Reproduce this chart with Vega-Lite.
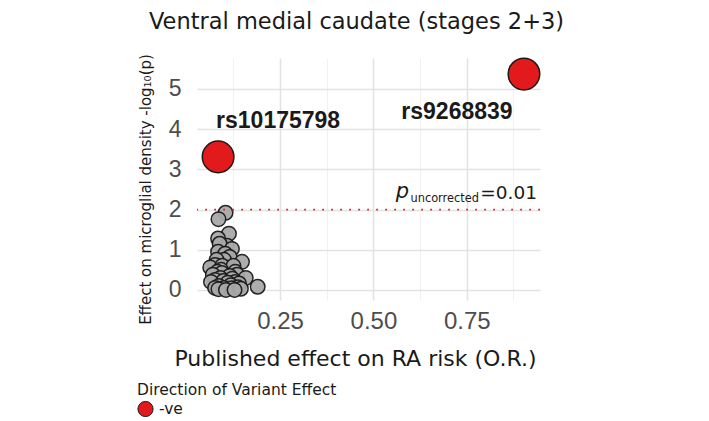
{
  "$schema": "https://vega.github.io/schema/vega-lite/v6.json",
  "autosize": "none",
  "width": 343,
  "height": 242,
  "padding": {"left": 197, "top": 58, "right": 169, "bottom": 121},
  "background": "white",
  "config": {
    "view": {"stroke": null},
    "font": "DejaVu Sans"
  },
  "title": {
    "text": "Ventral medial caudate (stages 2+3)",
    "font": "DejaVu Sans",
    "fontSize": 22.5,
    "fontWeight": "normal",
    "color": "#1a1a1a",
    "anchor": "middle",
    "dx": -12,
    "baseline": "alphabetic",
    "offset": 2
  },
  "datasets": {
    "snps": [
      {"snp": "rs10175798", "or": 0.084, "logp": 3.31, "direction": "-ve"},
      {"snp": "rs9268839", "or": 0.903, "logp": 5.37, "direction": "-ve"}
    ],
    "others": [
      {"or": 0.104, "logp": 1.92}, {"or": 0.085, "logp": 1.76}, {"or": 0.113, "logp": 1.40},
      {"or": 0.084, "logp": 1.28}, {"or": 0.108, "logp": 1.10}, {"or": 0.088, "logp": 1.15},
      {"or": 0.121, "logp": 1.02}, {"or": 0.084, "logp": 0.95}, {"or": 0.103, "logp": 0.90},
      {"or": 0.115, "logp": 0.82}, {"or": 0.100, "logp": 0.75}, {"or": 0.080, "logp": 0.75},
      {"or": 0.148, "logp": 0.70}, {"or": 0.076, "logp": 0.62}, {"or": 0.063, "logp": 0.56},
      {"or": 0.110, "logp": 0.55}, {"or": 0.095, "logp": 0.60}, {"or": 0.125, "logp": 0.60},
      {"or": 0.092, "logp": 0.50}, {"or": 0.130, "logp": 0.45}, {"or": 0.082, "logp": 0.45},
      {"or": 0.094, "logp": 0.42}, {"or": 0.070, "logp": 0.38}, {"or": 0.135, "logp": 0.38},
      {"or": 0.115, "logp": 0.35}, {"or": 0.158, "logp": 0.30}, {"or": 0.090, "logp": 0.30},
      {"or": 0.122, "logp": 0.28}, {"or": 0.076, "logp": 0.25}, {"or": 0.098, "logp": 0.22},
      {"or": 0.065, "logp": 0.20}, {"or": 0.130, "logp": 0.20}, {"or": 0.110, "logp": 0.18},
      {"or": 0.140, "logp": 0.16}, {"or": 0.118, "logp": 0.12}, {"or": 0.086, "logp": 0.10},
      {"or": 0.190, "logp": 0.08}, {"or": 0.137, "logp": 0.07}, {"or": 0.076, "logp": 0.05},
      {"or": 0.100, "logp": 0.05}, {"or": 0.120, "logp": 0.04}, {"or": 0.145, "logp": 0.03},
      {"or": 0.085, "logp": 0.02}, {"or": 0.105, "logp": 0.00}, {"or": 0.128, "logp": 0.00}
    ],
    "threshold": [{"p": 0.01, "logp": 2}]
  },
  "layer": [
    {
      "data": {"name": "others"},
      "mark": {"type": "point", "filled": true, "fill": "#a9a9a9", "stroke": "#1a1a1a", "strokeWidth": 1.5, "size": 210, "opacity": 0.95, "strokeOpacity": 1},
      "encoding": {
        "x": {
          "field": "or", "type": "quantitative",
          "scale": {"domain": [0.0275, 0.946], "nice": false, "zero": false},
          "axis": {
            "values": [0.125, 0.25, 0.375, 0.5, 0.625, 0.75, 0.875],
            "labelExpr": "(datum.value == 0.25 || datum.value == 0.5 || datum.value == 0.75) ? format(datum.value, '.2f') : ''",
            "domain": false, "ticks": false,
            "labelFont": "Liberation Sans", "labelFontSize": 24, "labelColor": "#4d4d4d",
            "labelPadding": 9,
            "gridColor": {"condition": {"test": "datum.value == 0.25 || datum.value == 0.5 || datum.value == 0.75", "value": "#e3e3e3"}, "value": "#efefef"},
            "gridWidth": {"condition": {"test": "datum.value == 0.25 || datum.value == 0.5 || datum.value == 0.75", "value": 1.6}, "value": 0.9},
            "title": "Published effect on RA risk (O.R.)",
            "titleFont": "DejaVu Sans", "titleFontSize": 22, "titleFontWeight": "normal", "titleColor": "#1a1a1a",
            "titleX": 158, "titleY": 58, "titleBaseline": "middle", "titleAlign": "center"
          }
        },
        "y": {
          "field": "logp", "type": "quantitative",
          "scale": {"domain": [-0.25, 5.77], "nice": false, "zero": false},
          "axis": {
            "values": [0, 0.5, 1, 1.5, 2, 2.5, 3, 3.5, 4, 4.5, 5, 5.5],
            "labelExpr": "datum.value % 1 == 0 ? datum.value : ''",
            "domain": false, "ticks": false,
            "labelFont": "Liberation Sans", "labelFontSize": 23, "labelColor": "#4d4d4d",
            "labelPadding": 16,
            "gridColor": {"condition": {"test": "datum.value % 1 == 0", "value": "#e3e3e3"}, "value": "#efefef"},
            "gridWidth": {"condition": {"test": "datum.value % 1 == 0", "value": 1.6}, "value": 0.9},
            "title": "Effect on microglial density -log₁₀(p)",
            "titleFont": "DejaVu Sans", "titleFontSize": 15, "titleFontWeight": "normal", "titleColor": "#1a1a1a",
            "titleAngle": -90, "titleX": -52, "titleY": 131, "titleBaseline": "middle", "titleAlign": "center"
          }
        }
      }
    },
    {
      "data": {"name": "threshold"},
      "mark": {"type": "rule", "color": "#e3242b", "strokeWidth": 1.8, "strokeDash": [1.8, 7.2]},
      "encoding": {"y": {"field": "logp", "type": "quantitative"}}
    },
    {
      "data": {"name": "threshold"},
      "mark": {"type": "text", "align": "right", "baseline": "alphabetic", "font": "DejaVu Sans", "fontSize": 18.5, "color": "#1a1a1a", "dy": -11},
      "encoding": {"x": {"datum": 0.938}, "y": {"field": "logp", "type": "quantitative"}, "text": {"value": "=0.01"}}
    },
    {
      "data": {"name": "threshold"},
      "mark": {"type": "text", "align": "right", "baseline": "alphabetic", "font": "DejaVu Sans", "fontSize": 11.4, "color": "#1a1a1a", "dy": -8, "dx": -58},
      "encoding": {"x": {"datum": 0.938}, "y": {"field": "logp", "type": "quantitative"}, "text": {"value": "uncorrected"}}
    },
    {
      "data": {"name": "threshold"},
      "mark": {"type": "text", "align": "right", "baseline": "alphabetic", "font": "DejaVu Sans", "fontSize": 21, "fontStyle": "italic", "color": "#1a1a1a", "dy": -12, "dx": -128},
      "encoding": {"x": {"datum": 0.938}, "y": {"field": "logp", "type": "quantitative"}, "text": {"value": "p"}}
    },
    {
      "data": {"name": "snps"},
      "mark": {"type": "point", "filled": true, "stroke": "#1a1a1a", "strokeWidth": 1.5, "size": 1000, "opacity": 1},
      "encoding": {
        "x": {"field": "or", "type": "quantitative"},
        "y": {"field": "logp", "type": "quantitative"},
        "fill": {
          "field": "direction", "type": "nominal",
          "scale": {"domain": ["-ve"], "range": ["#e31a1c"]},
          "legend": {
            "title": "Direction of Variant Effect",
            "orient": "none", "legendX": -60, "legendY": 325,
            "titleFont": "DejaVu Sans", "titleFontSize": 15.5, "titleFontWeight": "normal", "titleColor": "#1a1a1a",
            "titlePadding": 2, "titleLimit": 400,
            "labelFont": "DejaVu Sans", "labelFontSize": 15.5, "labelColor": "#1a1a1a",
            "symbolType": "circle", "symbolSize": 230, "symbolStrokeColor": "#1a1a1a", "symbolStrokeWidth": 1, "symbolOpacity": 1,
            "labelOffset": 5
          }
        }
      }
    },
    {
      "data": {"name": "snps"},
      "transform": [{"filter": "datum.snp == 'rs10175798'"}],
      "mark": {"type": "text", "font": "Liberation Sans", "fontWeight": "bold", "fontSize": 23, "color": "#1a1a1a", "align": "center", "baseline": "middle", "dx": 60, "dy": -36},
      "encoding": {"x": {"field": "or", "type": "quantitative"}, "y": {"field": "logp", "type": "quantitative"}, "text": {"field": "snp"}}
    },
    {
      "data": {"name": "snps"},
      "transform": [{"filter": "datum.snp == 'rs9268839'"}],
      "mark": {"type": "text", "font": "Liberation Sans", "fontWeight": "bold", "fontSize": 23, "color": "#1a1a1a", "align": "center", "baseline": "middle", "dx": -67, "dy": 38},
      "encoding": {"x": {"field": "or", "type": "quantitative"}, "y": {"field": "logp", "type": "quantitative"}, "text": {"field": "snp"}}
    }
  ]
}
